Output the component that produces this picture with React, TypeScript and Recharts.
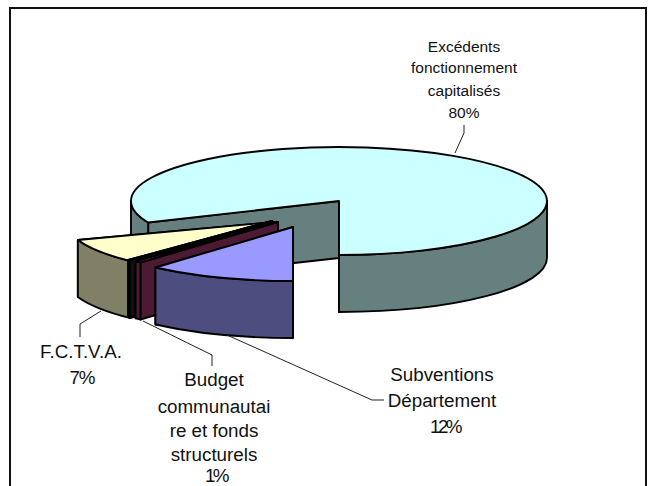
import React from "react";
import { PieChart, Pie } from "recharts";

const categories = [
  "Excédents fonctionnement capitalisés",
  "F.C.T.V.A.",
  "Autres",
  "Budget communautaire et fonds structurels",
  "Subventions Département",
];
const shares = [80.4, 7.45, 0.15, 0.5, 11.5];
const percentLabels = ["80%", "7%", "", "1%", "12%"];
const topColors = ["#ccffff", "#ffffcc", "#a0a070", "#993366", "#9999ff"];
const wallColors = ["#668080", "#808066", "#111111", "#4d1a33", "#4d4d80"];

const pieData = categories.map((name, i) => ({ name, value: shares[i], fill: topColors[i] }));

const CX = 339;
const CY = 201;
const R = 208;
const TILT = 54 / 208;
const DEPTH = 57;
const MAIN_END_TRIM = 4;
const EXPLODE = [
  [0, 0],
  [-65, 21],
  [-67, 20],
  [-61, 21],
  [-46, 26],
];

const LABELS = [
  { x: 464, size: 15.5, pctSpacing: 0, pctDx: 0, lines: ["Excédents", "fonctionnement", "capitalisés"], ys: [52, 73, 96, 118], leader: "455,153 464,133 464,125" },
  { x: 81, size: 18.8, pctSpacing: -1, pctDx: 1, lines: ["F.C.T.V.A."], ys: [358, 384], leader: "101,311 80,324 80,337" },
  null,
  { x: 214, size: 18.8, pctSpacing: -2.5, pctDx: 2, lines: ["Budget", "communautai", "re et fonds", "structurels"], ys: [386, 413, 437, 461, 481.5], leader: "143,321 212,355 212,366" },
  { x: 442, size: 18.8, pctSpacing: -2.5, pctDx: 3, lines: ["Subventions", "Département"], ys: [381, 407, 433], leader: "227,335 372,400 384,400" },
];

const rad = (d: number) => (d * Math.PI) / 180;

function Slice3D(props: any) {
  const { cx, cy, outerRadius: r, startAngle, index } = props;
  const endAngle = props.endAngle + (index === 0 ? MAIN_END_TRIM : 0);
  const [ox, oy] = EXPLODE[index];
  const ax = cx + ox;
  const ay = cy + oy;
  const ry = r * TILT;
  const pt = (a: number, d = 0) => [ax + r * Math.cos(rad(a)), ay - ry * Math.sin(rad(a)) + d];
  const top = topColors[index];
  const wall = wallColors[index];
  const stroke = { stroke: "#000", strokeWidth: 1.9, strokeLinejoin: "round" as const };

  const face = (a: number) => {
    const p = pt(a);
    const q = pt(a, DEPTH);
    return `M${ax},${ay} L${p[0]},${p[1]} L${q[0]},${q[1]} L${ax},${ay + DEPTH} Z`;
  };
  const arcWall = (a: number, b: number) => {
    const p = pt(a);
    const q = pt(b);
    const q2 = pt(b, DEPTH);
    const p2 = pt(a, DEPTH);
    return `M${p[0]},${p[1]} A${r},${ry} 0 0 0 ${q[0]},${q[1]} L${q2[0]},${q2[1]} A${r},${ry} 0 0 1 ${p2[0]},${p2[1]} Z`;
  };
  const ranges: number[][] = [];
  for (const [lo, hi] of [[-180, 0], [180, 360]]) {
    const a = Math.max(lo, startAngle);
    const b = Math.min(hi, endAngle);
    if (b > a) ranges.push([a, b]);
  }
  const s = pt(startAngle);
  const e = pt(endAngle);
  const large = endAngle - startAngle > 180 ? 1 : 0;
  const topPath = `M${ax},${ay} L${s[0]},${s[1]} A${r},${ry} 0 ${large} 0 ${e[0]},${e[1]} Z`;
  return (
    <g>
      <path d={face(startAngle)} fill={wall} {...stroke} />
      <path d={face(endAngle)} fill={wall} {...stroke} />
      {ranges.map(([a, b]) => (
        <path key={a} d={arcWall(a, b)} fill={wall} {...stroke} />
      ))}
      <path d={topPath} fill={top} {...stroke} />
    </g>
  );
}

function SliceLabel(props: any) {
  const spec = LABELS[props.index];
  if (!spec) return null;
  const texts = [...spec.lines, percentLabels[props.index]];
  return (
    <g>
      <polyline points={spec.leader} fill="none" stroke="#222" strokeWidth={1} />
      {texts.map((t, i) => {
        const isPct = i === texts.length - 1;
        return (
          <text
            key={i}
            x={spec.x + (isPct ? spec.pctDx : 0)}
            y={spec.ys[i]}
            textAnchor="middle"
            fontFamily="'Liberation Sans', Arial, sans-serif"
            fontSize={spec.size}
            letterSpacing={isPct ? spec.pctSpacing : 0}
            fill="#111"
          >
            {t}
          </text>
        );
      })}
    </g>
  );
}

export default function App() {
  return (
    <div style={{ position: "absolute", left: 0, top: 0, width: 654, height: 486, overflow: "hidden", background: "#fff" }}>
      <div style={{ position: "absolute", left: 9, top: 7, width: 638, height: 500, border: "2px solid #111", boxSizing: "border-box" }} />
      <div style={{ position: "absolute", left: 0, top: 0 }}>
        <PieChart width={654} height={486} margin={{ top: 0, right: 0, bottom: 0, left: 0 }}>
          <Pie
            data={pieData}
            dataKey="value"
            nameKey="name"
            cx={CX}
            cy={CY}
            innerRadius={0}
            outerRadius={R}
            startAngle={-90}
            endAngle={270}
            isAnimationActive={false}
            shape={Slice3D}
            label={SliceLabel}
            labelLine={false}
          />
        </PieChart>
      </div>
    </div>
  );
}
